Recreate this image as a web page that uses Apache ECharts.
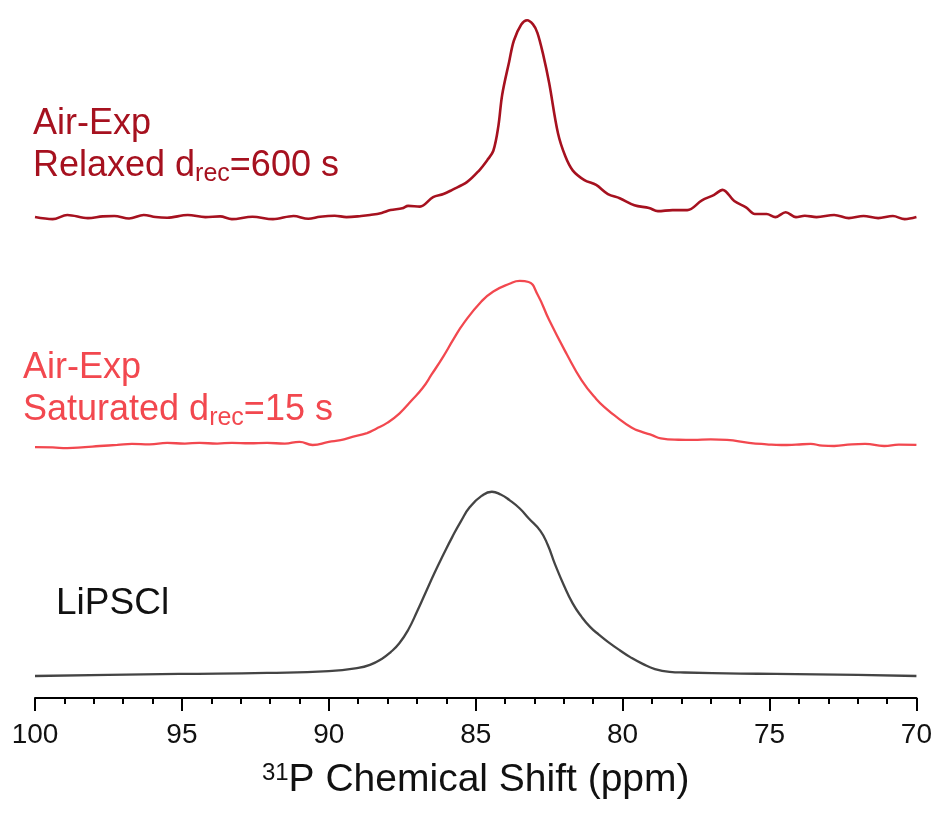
<!DOCTYPE html>
<html>
<head>
<meta charset="utf-8">
<script src="https://cdn.jsdelivr.net/npm/echarts@6/dist/echarts.min.js"></script>
<style>
	html, body { margin: 0; padding: 0; background: #fff; }
	#chart { width: 935px; height: 815px; }
</style>
</head>
<body>
<div id="chart"></div>
<script>
// 31P spectra (ppm, intensity above each trace's own baseline)
const relaxedPpm = [100, 99.4, 98.9, 98.2, 97.7, 97.3, 96.8, 96.3, 95.9, 95.5, 94.8, 94.2, 93.7, 93.3, 92.6, 91.9, 91.2, 90.7, 90.3, 89.8, 89.4, 88.9, 88.6, 88.2, 87.9, 87.5, 87.3, 86.9, 86.45, 86.1, 85.8, 85.3, 84.9, 84.6, 84.4, 84.23, 84.1, 83.86, 83.7, 83.45, 83.25, 83.05, 82.9, 82.7, 82.5, 82.2, 81.95, 81.7, 81.3, 80.9, 80.5, 80.1, 79.6, 79.1, 78.8, 78.3, 77.8, 77.3, 76.9, 76.6, 76.2, 75.8, 75.5, 75.1, 74.8, 74.45, 74.1, 73.8, 73.4, 72.8, 72.3, 71.8, 71.3, 70.8, 70.4, 70];
const relaxedInt = [0, -0.3, 0.3, -0.15, 0.1, 0.15, -0.2, 0.3, 0, -0.1, 0.3, 0, 0.1, -0.3, 0.05, -0.3, 0.15, -0.25, 0.05, 0.2, 0, 0.15, 0.3, 0.6, 1.0, 1.25, 1.6, 1.5, 2.85, 3.3, 3.9, 5.0, 6.6, 8.2, 9.5, 13.0, 17.5, 22.3, 25.3, 27.6, 28.2, 27.6, 26.4, 23.2, 19.2, 12.0, 8.7, 6.7, 5.3, 4.6, 3.3, 2.7, 1.7, 1.3, 0.85, 1.0, 1.0, 2.4, 3.15, 3.9, 2.3, 1.4, 0.45, 0.45, 0, 0.7, 0, 0.2, 0, 0.3, -0.15, 0.15, -0.15, 0.15, -0.3, 0];

const saturatedPpm = [100, 99.4, 98.9, 98.3, 97.8, 97.2, 96.7, 96.1, 95.5, 94.9, 94.4, 93.8, 93.3, 92.7, 92.1, 91.5, 91.0, 90.55, 90.0, 89.6, 89.2, 88.7, 88.4, 88.0, 87.6, 87.2, 86.8, 86.5, 86.1, 85.75, 85.4, 84.8, 84.4, 83.85, 83.5, 83.2, 82.9, 82.5, 81.9, 81.4, 80.9, 80.5, 80.2, 79.7, 79.3, 79.0, 78.7, 78.1, 77.6, 77.0, 76.45, 75.7, 75.1, 74.6, 74.1, 73.6, 73.2, 72.8, 72.2, 71.75, 71.1, 70.6, 70];
const saturatedInt = [-0.3, -0.35, -0.45, -0.3, -0.15, 0, 0.15, 0.1, 0.3, 0.2, 0.3, 0.2, 0.3, 0.25, 0.3, 0.2, 0.45, 0, 0.45, 0.7, 1.15, 1.7, 2.3, 3.2, 4.5, 6.3, 8.2, 10.1, 12.7, 15.2, 17.5, 20.6, 22.0, 23.1, 23.5, 23.35, 21.6, 17.9, 13.0, 9.3, 6.6, 5.0, 4.0, 2.5, 1.8, 1.4, 0.95, 0.75, 0.72, 0.8, 0.72, 0.3, 0.1, 0, 0.05, 0.15, -0.1, -0.15, 0.1, 0.15, -0.15, 0.05, 0];

const lipsclPpm = [100, 97.5, 95.1, 92.1, 90.0, 89.0, 88.6, 88.2, 87.9, 87.6, 87.3, 87.0, 86.7, 86.4, 86.1, 85.8, 85.5, 85.2, 84.8, 84.45, 84.15, 83.85, 83.5, 83.2, 82.8, 82.55, 82.3, 82.0, 81.7, 81.4, 81.1, 80.8, 80.5, 80.1, 79.7, 79.3, 78.9, 78.4, 77.9, 76.0, 74.8, 72.0, 70];
const lipsclInt = [0, 0.15, 0.3, 0.45, 0.7, 1.15, 1.6, 2.45, 3.4, 4.7, 6.6, 9.2, 12.0, 14.8, 17.4, 19.9, 22.2, 24.2, 25.8, 26.4, 26.0, 25.2, 24.0, 22.6, 20.8, 18.8, 16.0, 13.0, 10.4, 8.5, 7.0, 5.9, 4.9, 3.7, 2.6, 1.7, 1.0, 0.6, 0.5, 0.35, 0.3, 0.15, 0];

const xTicks = [100, 95, 90, 85, 80, 75, 70];

// vertical stacking of the three traces (y axis units)
const stackOffset = { relaxed: 68.9, saturated: 36.25, lipscl: 3.15 };

const colors = { relaxed: '#A6111F', saturated: '#F2484F', lipscl: '#444444' };

function toPoints(ppm, vals, off) {
	return ppm.map((p, i) => [p, vals[i] + off]);
}

const el = document.getElementById('chart');
const chart = echarts.init(el);

const fontMain = 'Liberation Sans, Arial, sans-serif';

function spectrum(name, data, color, width, smooth) {
	return {
		name: name,
		type: 'line',
		data: data,
		smooth: smooth,
		showSymbol: false,
		symbol: 'none',
		lineStyle: { color: color, width: width },
		silent: true,
		animation: false
	};
}

function sampleLabel(lines, color, left, top) {
	return {
		type: 'text', left: left, top: top,
		style: {
			text: lines,
			rich: {
				a: { fontSize: 36, fontFamily: fontMain, fill: color, lineHeight: 42 },
				s: { fontSize: 25, fontFamily: fontMain, fill: color, lineHeight: 16, verticalAlign: 'bottom' }
			}
		}
	};
}

const option = {
	animation: false,
	grid: { left: 35, right: 17, top: 0, bottom: 117 },
	xAxis: {
		type: 'value',
		min: 70,
		max: 100,
		interval: 5,
		inverse: true,
		splitLine: { show: false },
		axisLine: { lineStyle: { color: '#000', width: 2 } },
		axisTick: { length: 13, lineStyle: { color: '#000', width: 2 } },
		minorTick: { show: true, splitNumber: 5, length: 6, lineStyle: { color: '#000', width: 2 } },
		axisLabel: {
			margin: 23,
			fontSize: 28,
			color: '#111',
			fontFamily: fontMain,
			formatter: v => (xTicks.indexOf(v) >= 0 ? String(v) : '')
		},
		name: '{sup|31}P Chemical Shift (ppm)',
		nameLocation: 'middle',
		nameGap: 63,
		nameTextStyle: {
			fontSize: 39,
			color: '#111',
			fontFamily: fontMain,
			rich: {
				sup: { fontSize: 24, fontFamily: fontMain, color: '#111', verticalAlign: 'top', lineHeight: 22 }
			}
		}
	},
	yAxis: { type: 'value', min: 0, max: 100, show: false },
	series: [
		spectrum('Relaxed', toPoints(relaxedPpm, relaxedInt, stackOffset.relaxed), colors.relaxed, 2.6, 0.35),
		spectrum('Saturated', toPoints(saturatedPpm, saturatedInt, stackOffset.saturated), colors.saturated, 2.3, 0.5),
		spectrum('LiPSCl', toPoints(lipsclPpm, lipsclInt, stackOffset.lipscl), colors.lipscl, 2.3, 0.5)
	],
	graphic: [
		sampleLabel('{a|Air-Exp}\n{a|Relaxed d}{s|rec}{a|=600 s}', colors.relaxed, 33, 106),
		sampleLabel('{a|Air-Exp}\n{a|Saturated d}{s|rec}{a|=15 s}', colors.saturated, 23, 350),
		{
			type: 'text', left: 56, top: 585,
			style: { text: 'LiPSCl', fontSize: 37, fontFamily: fontMain, fill: '#111' }
		}
	]
};

chart.setOption(option);

window.addEventListener('resize', () => chart.resize());
</script>
</body>
</html>
